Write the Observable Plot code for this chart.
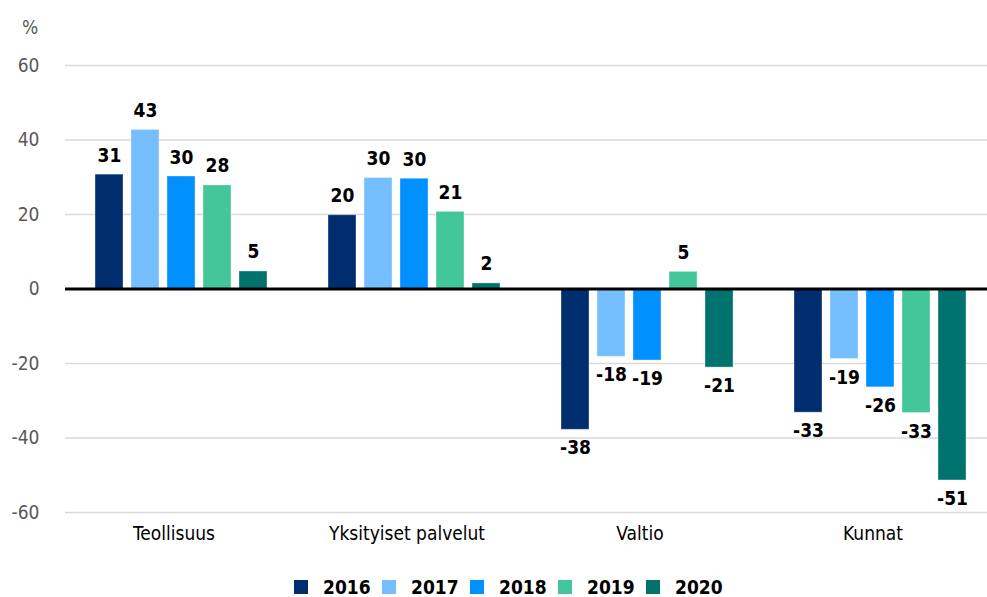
<!DOCTYPE html>
<html>
<head>
<meta charset="utf-8">
<script src="https://cdn.jsdelivr.net/npm/d3@7"></script>
<script src="https://cdn.jsdelivr.net/npm/@observablehq/plot@0.6"></script>
<style>
  html, body { margin: 0; padding: 0; background: #fff; }
  body { width: 987px; height: 597px; overflow: hidden; font-family: "DejaVu Sans Condensed", "DejaVu Sans", sans-serif; font-stretch: condensed; }
  svg text { font-stretch: condensed; }
  #legend { display: flex; justify-content: center; align-items: center; margin-top: 6px; padding-left: 41px; height: 22px; line-height: 22px; font-weight: bold; font-size: 19px; color: #000; }
  .item { display: flex; align-items: center; width: 88px; }
  .sw { width: 14px; height: 14px; margin-right: 15px; flex: none; }
</style>
</head>
<body>
<div id="chart"></div>
<div id="legend"></div>
<script>
const groups = ["Teollisuus", "Yksityiset palvelut", "Valtio", "Kunnat"];
const years = ["2016", "2017", "2018", "2019", "2020"];
const colors = ["#002D6E", "#75BEFF", "#0090FF", "#43C79A", "#00736E"];
// values per group, in year order 2016..2020
const teollisuus = [30.7, 42.7, 30.2, 27.8, 4.7];
const yksityiset = [19.8, 29.8, 29.6, 20.7, 1.5];
const valtio = [-37.8, -18.2, -19.2, 4.6, -21.1];
const kunnat = [-33.2, -18.8, -26.4, -33.3, -51.4];
const yTicks = [-60, -40, -20, 0, 20, 40, 60];

const series = [teollisuus, yksityiset, valtio, kunnat];
const data = [];
groups.forEach((g, gi) => years.forEach((y, yi) => data.push({group: g, year: y, value: series[gi][yi]})));

const font = '"DejaVu Sans Condensed", "DejaVu Sans", sans-serif';

const chart = Plot.plot({
  width: 987,
  height: 570,
  marginTop: 65,
  marginBottom: 58,
  marginLeft: 63,
  marginRight: -11,
  style: {fontFamily: font, fontSize: "19px", background: "#fff", overflow: "hidden"},
  fx: {domain: groups, padding: 0, label: null},
  x: {domain: years, paddingInner: 0.22, paddingOuter: 0.8, axis: null},
  y: {domain: [-60, 60], ticks: yTicks, label: null},
  color: {domain: years, range: colors},
  marks: [
    Plot.gridY(yTicks.filter(d => d !== 0), {stroke: "#D9D9D9", strokeOpacity: 1, strokeWidth: 1.6}),
    Plot.axisY(yTicks, {tickSize: 0, tickPadding: 26, fill: "#595959", fontSize: 19, tickFormat: d => String(d), label: null}),
    Plot.axisFx({anchor: "bottom", tickSize: 0, tickPadding: 14, dx: -8, fontSize: 19, fill: "#000", label: null}),
    Plot.barY(data, {fx: "group", x: "year", y: "value", fill: "year", stroke: "#fff", strokeOpacity: 0.35, strokeWidth: 1}),
    Plot.ruleY([0], {stroke: "#000", strokeWidth: 3}),
    Plot.text(data.filter(d => d.value >= 0), {fx: "group", x: "year", y: "value", text: d => String(Math.round(d.value)), lineAnchor: "bottom", dy: -13, fontWeight: "bold", fontSize: 19, fill: "#000"}),
    Plot.text(data.filter(d => d.value < 0), {fx: "group", x: "year", y: "value", text: d => String(Math.round(d.value)), lineAnchor: "top", dy: 11, fontWeight: "bold", fontSize: 19, fill: "#000"})
  ]
});
d3.select(chart).append("text")
  .attr("x", 30).attr("y", 34)
  .attr("text-anchor", "middle")
  .attr("fill", "#595959")
  .attr("font-size", 19)
  .text("%");
document.getElementById("chart").appendChild(chart);

const legend = document.getElementById("legend");
years.forEach((y, i) => {
  const item = document.createElement("div");
  item.className = "item";
  const sw = document.createElement("div");
  sw.className = "sw";
  sw.style.background = colors[i];
  const t = document.createElement("span");
  t.textContent = y;
  item.appendChild(sw);
  item.appendChild(t);
  legend.appendChild(item);
});
</script>
</body>
</html>
